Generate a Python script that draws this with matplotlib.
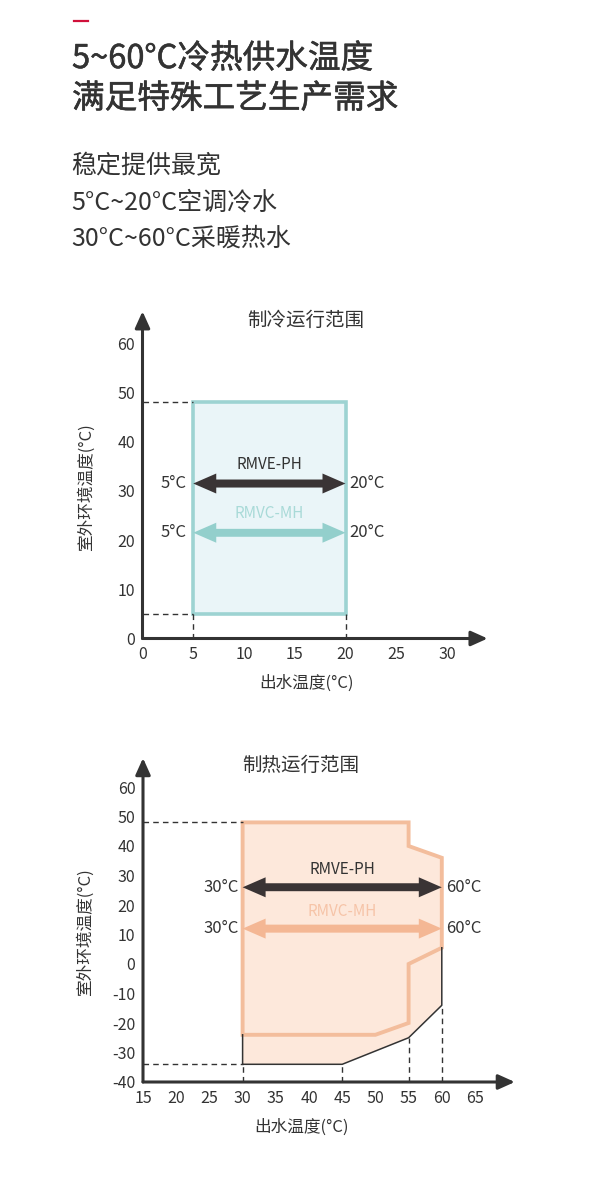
import matplotlib
matplotlib.use('Agg')
import matplotlib.pyplot as plt
import matplotlib.patheffects as pe
from matplotlib.patches import FancyArrowPatch, Polygon, Rectangle

plt.rcParams['font.family'] = ['Noto Sans CJK SC', 'DejaVu Sans']
plt.rcParams['axes.unicode_minus'] = False

# ---------------- data ----------------
header_title = ['5~60°C冷热供水温度', '满足特殊工艺生产需求']
header_sub = ['稳定提供最宽', '5°C~20°C空调冷水', '30°C~60°C采暖热水']

xlabel_text = '出水温度(°C)'
ylabel_text = '室外环境温度(°C)'
model_names = ['RMVE-PH', 'RMVC-MH']

cool_title = '制冷运行范围'
cool_xticks = [0, 5, 10, 15, 20, 25, 30]
cool_yticks = [0, 10, 20, 30, 40, 50, 60]
cool_water = [5, 20]          # outlet water temp range
cool_ambient = [5, 48]        # ambient temp range
cool_model_y = [31.5, 21.5]   # y of model arrows
cool_end_labels = ['5°C', '20°C']

heat_title = '制热运行范围'
heat_xticks = [15, 20, 25, 30, 35, 40, 45, 50, 55, 60, 65]
heat_yticks = [-40, -30, -20, -10, 0, 10, 20, 30, 40, 50, 60]
heat_water = [30, 60]
heat_model_y = [26, 12]
heat_end_labels = ['30°C', '60°C']
# full envelope (RMVE-PH)
heat_env_x = [30, 55, 55, 60, 60, 55, 45, 30]
heat_env_y = [48, 48, 40, 36, -14, -25, -34, -34]
# RMVC-MH envelope outline
heat_mh_x = [30, 55, 55, 60, 60, 55, 55, 50, 30]
heat_mh_y = [48, 48, 40, 36, 5.5, 0, -20, -24, -24]
# lower extension boundary (black)
heat_low_x = [30, 30, 45, 55, 60, 60]
heat_low_y = [-24, -34, -34, -25, -14, 5.5]

# ---------------- style ----------------
W, H = 600, 1202
DARK = '#333333'
ARROW_DARK = '#3a3435'
TEAL_EDGE = '#9dd3d2'
TEAL_FILL = '#eaf5f8'
TEAL_ARROW = '#93cfcc'
TEAL_TEXT = '#a9dad8'
OR_EDGE = '#f3bd9c'
OR_FILL = '#fde8db'
OR_ARROW = '#f4b794'
OR_TEXT = '#f6c4a8'

fig = plt.figure(figsize=(W / 100, H / 100), dpi=100)
fig.patch.set_facecolor('white')


def fx(px):
    return px / W


def fy(py):
    return 1 - py / H


# ---------------- header ----------------
fig.add_artist(plt.Line2D([fx(74), fx(88)], [fy(21), fy(21)], color='#d0103a', lw=1.6))
for i, t in enumerate(header_title):
    fig.text(fx(72), fy(59 + 40 * i), t, fontsize=23.5, color=DARK,
             ha='left', va='center',
             path_effects=[pe.withStroke(linewidth=0.4, foreground=DARK)])
for i, t in enumerate(header_sub):
    fig.text(fx(71), fy(166 + 36.5 * i), t, fontsize=18, color=DARK,
             ha='left', va='center')

MS = 14.4          # arrow mutation scale (pt)
HL = 1.15          # head length (fraction of MS)


def big_arrow(ax, x0, x1, y, color):
    for xs, xe in ((x1, x0), (x0, x1)):
        p = FancyArrowPatch((xs, y), (xe, y),
                            arrowstyle=f'simple,head_length={HL},head_width=1.0,tail_width=0.38',
                            mutation_scale=MS, color=color, lw=0,
                            shrinkA=HL * MS * 0.7, shrinkB=0, zorder=6)
        ax.add_patch(p)


def axis_arrows(ax, x0, y0, x1, y1):
    kw = dict(arrowstyle='-|>,head_length=1.0,head_width=0.45', color=DARK, lw=2.2,
              shrinkA=0, shrinkB=0, mutation_scale=10)
    ax.annotate('', xy=(x1, y0), xytext=(x0, y0), arrowprops=kw, annotation_clip=False)
    ax.annotate('', xy=(x0, y1), xytext=(x0, y0), arrowprops=kw, annotation_clip=False)


def setup_axes(ax, xlim, ylim, xticks, yticks):
    ax.set_xlim(*xlim)
    ax.set_ylim(*ylim)
    for s in ax.spines.values():
        s.set_visible(False)
    ax.set_xticks(xticks)
    ax.set_yticks(yticks)
    ax.tick_params(length=0, labelsize=11.5, labelcolor=DARK, pad=5.5)
    ax.patch.set_alpha(0)
    axis_arrows(ax, xlim[0], ylim[0], xlim[1], ylim[1])


DASH = dict(color=DARK, lw=1.0, ls=(0, (4, 3)), zorder=3)

# ---------------- cooling chart ----------------
cx0, cpx = 142.5, 10.15   # pixel of x=0, px per unit
cy0, cpy = 638.5, 4.92
cxlim = (0, 34)
cylim = (0, 66.5)
ax1 = fig.add_axes([fx(cx0), fy(cy0), (cxlim[1] - cxlim[0]) * cpx / W,
                    (cylim[1] - cylim[0]) * cpy / H])
setup_axes(ax1, cxlim, cylim, cool_xticks, cool_yticks)

ax1.add_patch(Rectangle((cool_water[0], cool_ambient[0]), cool_water[1] - cool_water[0],
                        cool_ambient[1] - cool_ambient[0], facecolor=TEAL_FILL,
                        edgecolor=TEAL_EDGE, lw=2.6, zorder=2))
for yv in cool_ambient:
    ax1.plot([cxlim[0], cool_water[0]], [yv, yv], **DASH)
for xv in cool_water:
    ax1.plot([xv, xv], [cylim[0], cool_ambient[0]], **DASH)

big_arrow(ax1, cool_water[0], cool_water[1], cool_model_y[0], ARROW_DARK)
big_arrow(ax1, cool_water[0], cool_water[1], cool_model_y[1], TEAL_ARROW)
xm = sum(cool_water) / 2
ax1.text(xm, cool_model_y[0] + 3.9, model_names[0], ha='center', va='center',
         fontsize=11, color=DARK, zorder=7)
ax1.text(xm, cool_model_y[1] + 3.9, model_names[1], ha='center', va='center',
         fontsize=11, color=TEAL_TEXT, zorder=7)
for yv in cool_model_y:
    ax1.text(cool_water[0] - 0.65, yv, cool_end_labels[0], ha='right', va='center',
             fontsize=12, color=DARK)
    ax1.text(cool_water[1] + 0.35, yv, cool_end_labels[1], ha='left', va='center',
             fontsize=12, color=DARK)

fig.text(fx(306), fy(320), cool_title, ha='center', va='center', fontsize=14, color=DARK)
fig.text(fx(307), fy(683), xlabel_text, ha='center', va='center', fontsize=12, color=DARK)
fig.text(fx(86), fy(487), ylabel_text, ha='center', va='center', fontsize=12,
         color=DARK, rotation=90)

# ---------------- heating chart ----------------
hx0, hpx = 143, 6.64   # pixel of x=15
hy0, hpy = 1082, 2.95  # pixel of y=-40
hxlim = (15, 71)
hylim = (-40, 69.8)
ax2 = fig.add_axes([fx(hx0), fy(hy0), (hxlim[1] - hxlim[0]) * hpx / W,
                    (hylim[1] - hylim[0]) * hpy / H])
setup_axes(ax2, hxlim, hylim, heat_xticks, heat_yticks)

ax2.add_patch(Polygon(list(zip(heat_env_x, heat_env_y)), closed=True,
                      facecolor=OR_FILL, edgecolor='none', zorder=1))
ax2.add_patch(Polygon(list(zip(heat_mh_x, heat_mh_y)), closed=True,
                      facecolor='none', edgecolor=OR_EDGE, lw=2.8, zorder=2,
                      joinstyle='miter'))
ax2.plot(heat_low_x, heat_low_y, color=DARK, lw=1.1, zorder=3)

# dashed guides
ax2.plot([hxlim[0], heat_env_x[0]], [heat_env_y[0]] * 2, **DASH)
ax2.plot([hxlim[0], heat_low_x[1]], [heat_low_y[1]] * 2, **DASH)
for xv, yv in zip(heat_low_x[1:5], heat_low_y[1:5]):
    ax2.plot([xv, xv], [hylim[0], yv], **DASH)

big_arrow(ax2, heat_water[0], heat_water[1], heat_model_y[0], ARROW_DARK)
big_arrow(ax2, heat_water[0], heat_water[1], heat_model_y[1], OR_ARROW)
xm = sum(heat_water) / 2
ax2.text(xm, heat_model_y[0] + 6.2, model_names[0], ha='center', va='center',
         fontsize=11, color=DARK, zorder=7)
ax2.text(xm, heat_model_y[1] + 5.8, model_names[1], ha='center', va='center',
         fontsize=11, color=OR_TEXT, zorder=7)
for yv in heat_model_y:
    ax2.text(heat_water[0] - 0.6, yv, heat_end_labels[0], ha='right', va='center',
             fontsize=12, color=DARK)
    ax2.text(heat_water[1] + 0.6, yv, heat_end_labels[1], ha='left', va='center',
             fontsize=12, color=DARK)

fig.text(fx(301), fy(765), heat_title, ha='center', va='center', fontsize=14, color=DARK)
fig.text(fx(302), fy(1127), xlabel_text, ha='center', va='center', fontsize=12, color=DARK)
fig.text(fx(85), fy(932), ylabel_text, ha='center', va='center', fontsize=12,
         color=DARK, rotation=90)

fig.savefig('out.png', dpi=100, facecolor='white')
